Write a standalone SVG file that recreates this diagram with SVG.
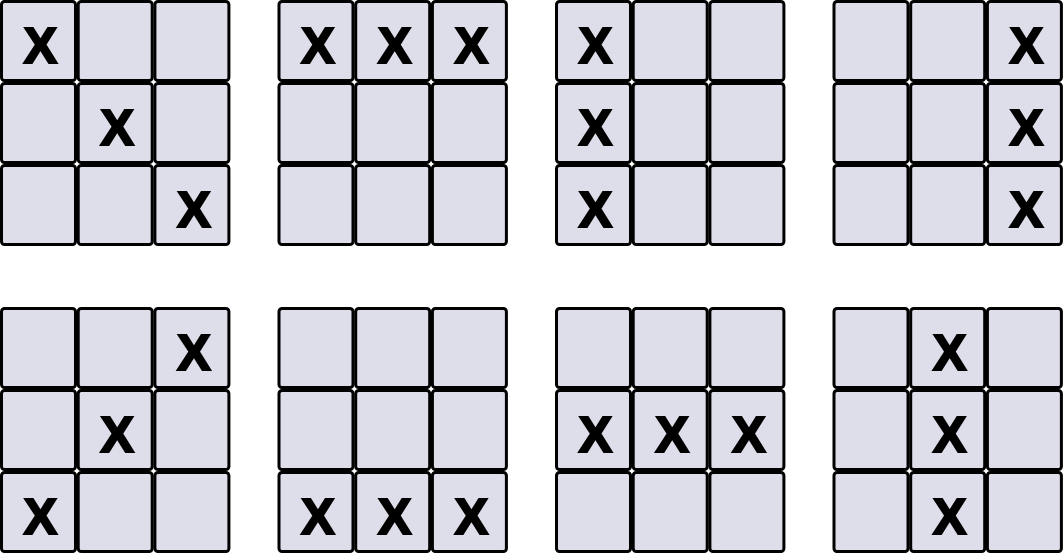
<svg xmlns="http://www.w3.org/2000/svg" width="1063" height="555" viewBox="0 0 1063 555">
<style>
.c{fill:#dedeea;stroke:#000;stroke-width:3;}
text.x{font-family:"Liberation Sans",Arial,Helvetica,sans-serif;font-weight:700;font-size:50px;text-anchor:middle;fill:#000;stroke:#000;stroke-width:2.2;stroke-linejoin:miter;}
</style>
<defs>
<g id="board">
<rect class="c" x="1.5" y="1.5" width="74" height="79" rx="3"/>
<rect class="c" x="78.2" y="1.5" width="74" height="79" rx="3"/>
<rect class="c" x="154.9" y="1.5" width="74" height="79" rx="3"/>
<rect class="c" x="1.5" y="83.5" width="74" height="79" rx="3"/>
<rect class="c" x="78.2" y="83.5" width="74" height="79" rx="3"/>
<rect class="c" x="154.9" y="83.5" width="74" height="79" rx="3"/>
<rect class="c" x="1.5" y="165.5" width="74" height="79" rx="3"/>
<rect class="c" x="78.2" y="165.5" width="74" height="79" rx="3"/>
<rect class="c" x="154.9" y="165.5" width="74" height="79" rx="3"/>
</g>
</defs>
<g id="grid1" transform="translate(0,0)">
<use href="#board"/>
<text class="x" font-weight="bold" x="40.5" y="62.5">X</text>
<text class="x" font-weight="bold" x="117.2" y="144.5">X</text>
<text class="x" font-weight="bold" x="193.9" y="226.5">X</text>
</g>
<g id="grid2" transform="translate(277.5,0)">
<use href="#board"/>
<text class="x" font-weight="bold" x="40.5" y="62.5">X</text>
<text class="x" font-weight="bold" x="117.2" y="62.5">X</text>
<text class="x" font-weight="bold" x="193.9" y="62.5">X</text>
</g>
<g id="grid3" transform="translate(555,0)">
<use href="#board"/>
<text class="x" font-weight="bold" x="40.5" y="62.5">X</text>
<text class="x" font-weight="bold" x="40.5" y="144.5">X</text>
<text class="x" font-weight="bold" x="40.5" y="226.5">X</text>
</g>
<g id="grid4" transform="translate(832.5,0)">
<use href="#board"/>
<text class="x" font-weight="bold" x="193.9" y="62.5">X</text>
<text class="x" font-weight="bold" x="193.9" y="144.5">X</text>
<text class="x" font-weight="bold" x="193.9" y="226.5">X</text>
</g>
<g id="grid5" transform="translate(0,307)">
<use href="#board"/>
<text class="x" font-weight="bold" x="193.9" y="62.5">X</text>
<text class="x" font-weight="bold" x="117.2" y="144.5">X</text>
<text class="x" font-weight="bold" x="40.5" y="226.5">X</text>
</g>
<g id="grid6" transform="translate(277.5,307)">
<use href="#board"/>
<text class="x" font-weight="bold" x="40.5" y="226.5">X</text>
<text class="x" font-weight="bold" x="117.2" y="226.5">X</text>
<text class="x" font-weight="bold" x="193.9" y="226.5">X</text>
</g>
<g id="grid7" transform="translate(555,307)">
<use href="#board"/>
<text class="x" font-weight="bold" x="40.5" y="144.5">X</text>
<text class="x" font-weight="bold" x="117.2" y="144.5">X</text>
<text class="x" font-weight="bold" x="193.9" y="144.5">X</text>
</g>
<g id="grid8" transform="translate(832.5,307)">
<use href="#board"/>
<text class="x" font-weight="bold" x="117.2" y="62.5">X</text>
<text class="x" font-weight="bold" x="117.2" y="144.5">X</text>
<text class="x" font-weight="bold" x="117.2" y="226.5">X</text>
</g>
<g id="connectors"/>
</svg>
